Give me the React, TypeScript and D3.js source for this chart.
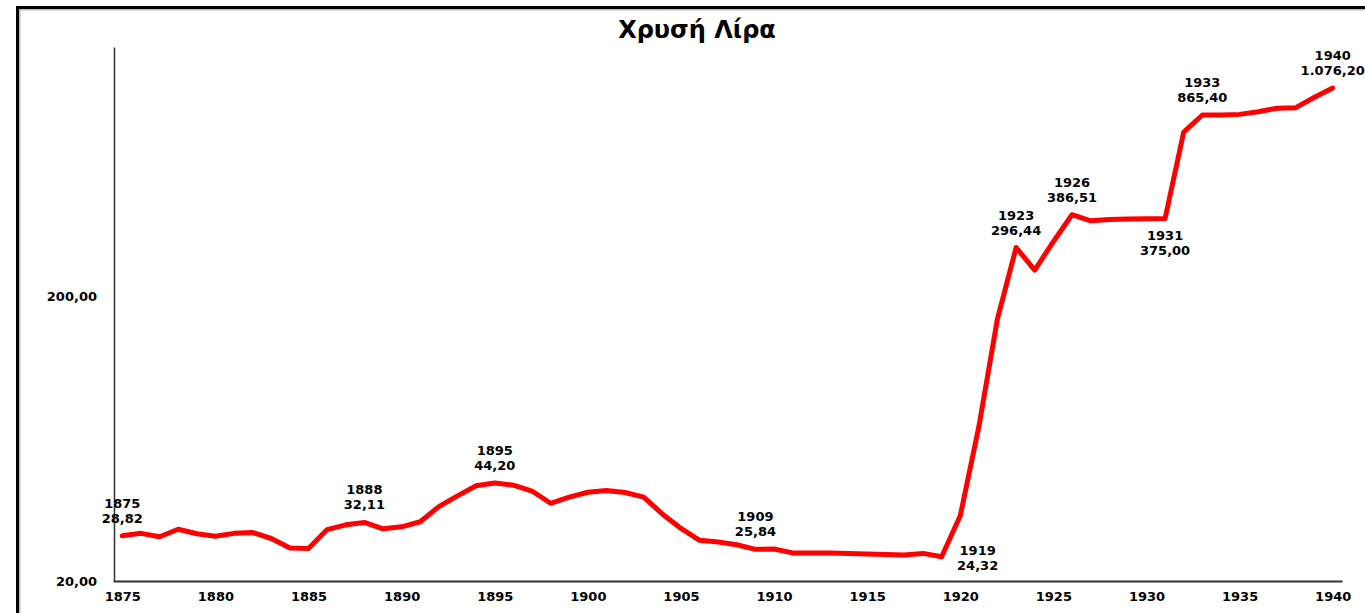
import React, { useEffect, useRef } from 'react';
import * as d3 from 'd3';

const title = 'Χρυσή Λίρα';

const years = d3.range(1875, 1941);

const prices = [
  28.82, 29.4, 28.6, 30.4, 29.3, 28.7, 29.4, 29.6, 28.2, 26.1,
  26.0, 30.3, 31.5, 32.11, 30.5, 31.0, 32.3, 36.5, 39.8, 43.2,
  44.2, 43.4, 41.4, 37.5, 39.4, 41.0, 41.6, 40.9, 39.4, 34.4,
  30.6, 27.8, 27.4, 26.8, 25.84, 25.9, 25.1, 25.1, 25.1, 25.0,
  24.9, 24.8, 24.7, 25.0, 24.32, 33.9, 69.7, 167, 296.44, 247,
  311, 386.51, 368, 372, 373, 374, 375.0, 754, 865.4, 866,
  870, 889, 914, 917, 997, 1076.2,
];

const labelledYears = [1875, 1888, 1895, 1909, 1919, 1923, 1926, 1931, 1933, 1940];
const xTickYears = [1875, 1880, 1885, 1890, 1895, 1900, 1905, 1910, 1915, 1920, 1925, 1930, 1935, 1940];
const yTickValues = [20, 200];

const width = 1365;
const height = 613;

export default function App() {
  const ref = useRef<SVGSVGElement>(null);

  useEffect(() => {
    const svg = d3.select(ref.current);
    svg.selectAll('*').remove();

    const font = '"DejaVu Sans", Verdana, sans-serif';
    const greek = d3.formatLocale({
      decimal: ',',
      thousands: '.',
      grouping: [3],
      currency: ['', '€'],
    });
    const fmt = greek.format(',.2f');

    // outer frame
    svg.append('rect')
      .attr('x', 19.5).attr('y', 9.5)
      .attr('width', width).attr('height', height)
      .attr('fill', 'none')
      .attr('stroke', '#bbb')
      .attr('stroke-width', 2);
    svg.append('rect')
      .attr('x', 17.5).attr('y', 7.5)
      .attr('width', width).attr('height', height)
      .attr('fill', 'none')
      .attr('stroke', '#000')
      .attr('stroke-width', 3);

    svg.append('text')
      .attr('x', 697).attr('y', 31)
      .attr('text-anchor', 'middle')
      .attr('dominant-baseline', 'middle')
      .style('font-family', font)
      .style('font-weight', 'bold')
      .style('font-size', '24px')
      .text(title);

    const x = d3.scalePoint<number>()
      .domain(years)
      .range([113, 1342])
      .padding(0.5);

    const y = d3.scaleLog()
      .domain([20, 1500])
      .range([581, 47]);

    // y axis
    const yAxis = svg.append('g')
      .attr('transform', 'translate(114,0)')
      .call(d3.axisLeft(y).tickValues(yTickValues).tickSize(0).tickPadding(17).tickFormat((d) => fmt(+d)));
    yAxis.select('.domain').attr('stroke', '#333').attr('stroke-width', 1.5);
    yAxis.selectAll('text')
      .style('font-family', font)
      .style('font-weight', 'bold')
      .style('font-size', '13px')
      .attr('fill', '#000');

    // x axis
    const xAxis = svg.append('g')
      .attr('transform', 'translate(0,581)')
      .call(d3.axisBottom(x).tickValues(xTickYears).tickSize(0).tickPadding(11));
    xAxis.select('.domain').attr('stroke', '#333').attr('stroke-width', 2);
    xAxis.selectAll('text')
      .style('font-family', font)
      .style('font-weight', 'bold')
      .style('font-size', '13px')
      .attr('fill', '#000');

    const data = years.map((yr, i) => ({ year: yr, value: prices[i] }));

    const line = d3.line<{ year: number; value: number }>()
      .x((d) => x(d.year)!)
      .y((d) => y(d.value));

    svg.append('path')
      .datum(data)
      .attr('d', line)
      .attr('fill', 'none')
      .attr('stroke', '#ff0000')
      .attr('stroke-width', 5)
      .attr('stroke-linejoin', 'round')
      .attr('stroke-linecap', 'round');

    // data labels
    const placement: Record<number, string> = { 1919: 'right', 1931: 'below' };
    const labels = svg.append('g')
      .style('font-family', font)
      .style('font-weight', 'bold')
      .style('font-size', '13px');

    data.filter((d) => labelledYears.includes(d.year)).forEach((d) => {
      const px = x(d.year)!;
      const py = y(d.value);
      const pos = placement[d.year] || 'above';
      let cx = px;
      let y1 = py - 32;
      if (pos === 'below') { y1 = py + 18; }
      if (pos === 'right') { cx = px + 36; y1 = py - 6; }
      const t = labels.append('text')
        .attr('text-anchor', 'middle')
        .attr('dominant-baseline', 'middle')
        .attr('fill', '#000');
      t.append('tspan').attr('x', cx).attr('y', y1).text(d.year);
      t.append('tspan').attr('x', cx).attr('y', y1 + 15).text(fmt(d.value));
    });
  }, []);

  return (
    <svg
      ref={ref}
      width={width}
      height={height}
      style={{ position: 'absolute', left: 0, top: 0, background: '#fff' }}
    />
  );
}
